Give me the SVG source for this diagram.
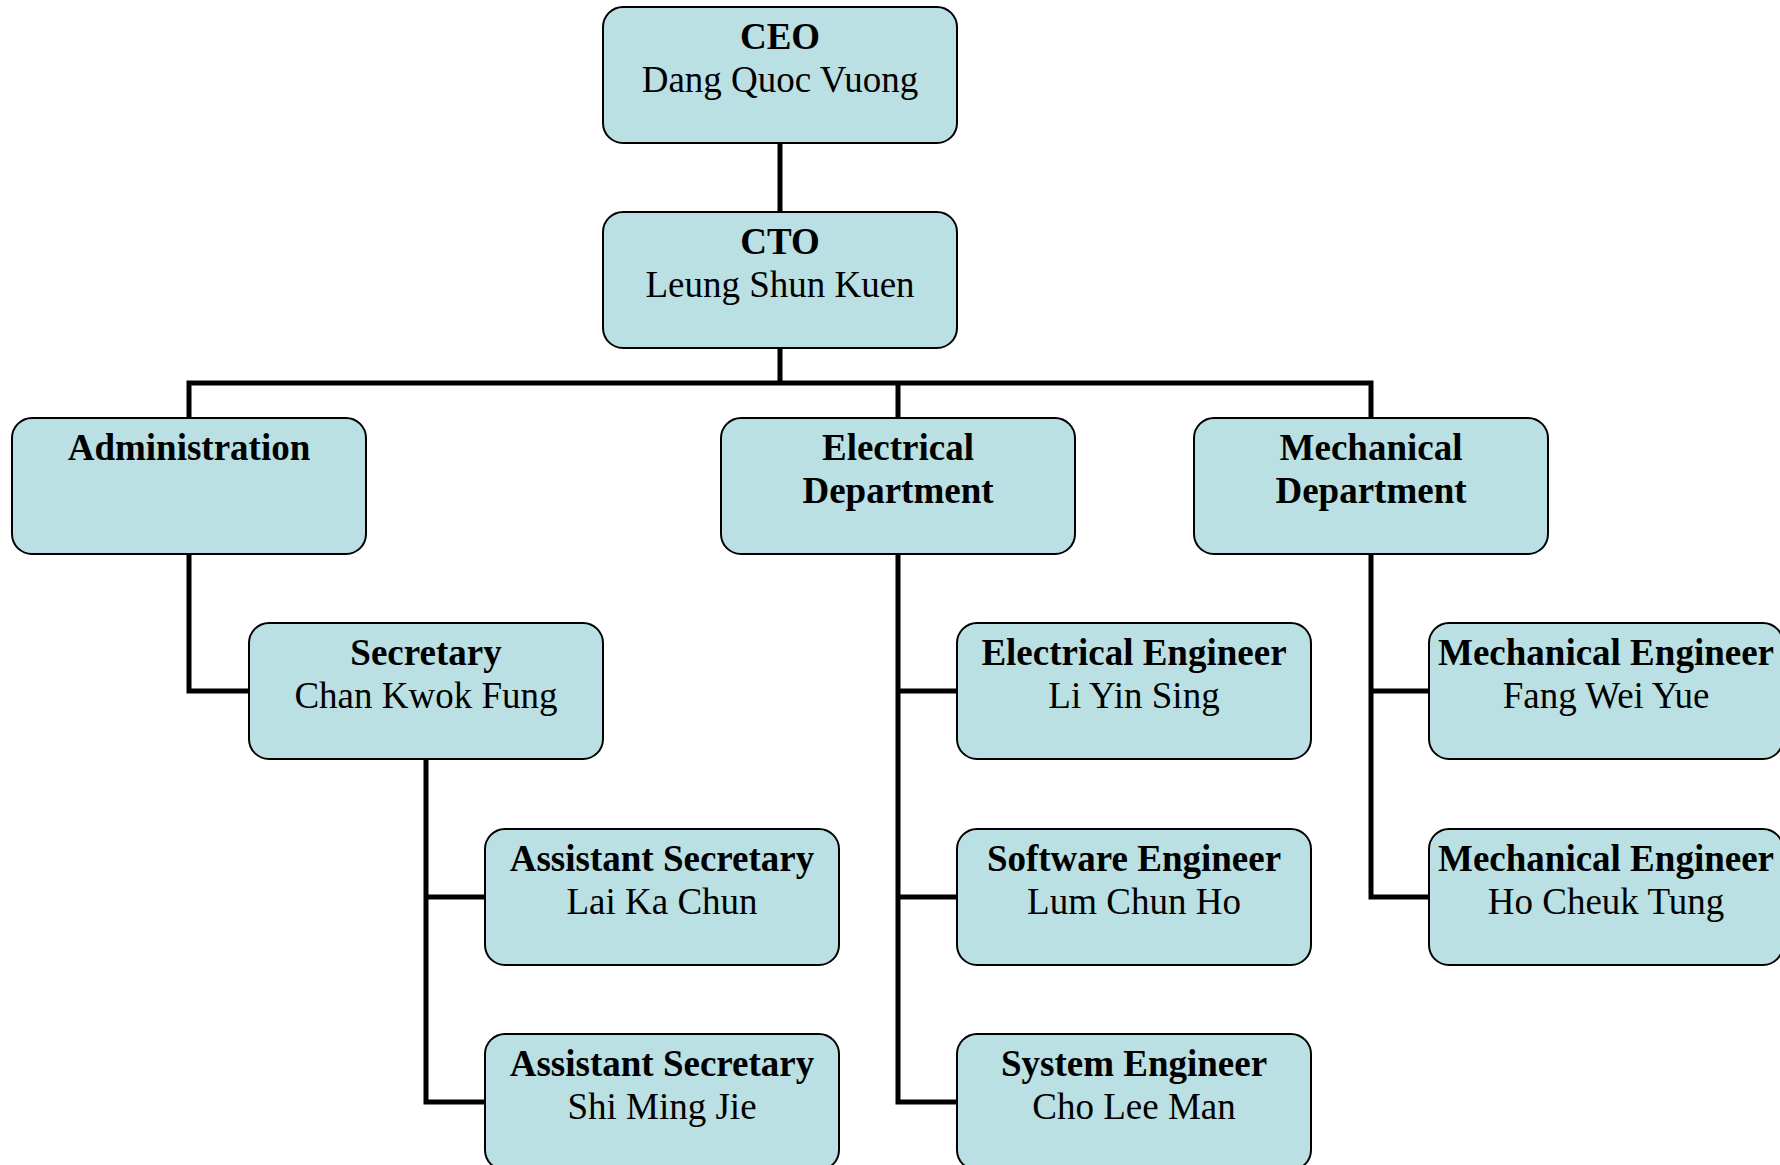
<svg xmlns="http://www.w3.org/2000/svg" width="1780" height="1165" viewBox="0 0 1780 1165">
<style>
.box{fill:#bae0e3;stroke:#000;stroke-width:2}
.t{font-family:"Liberation Serif","Times New Roman",serif;font-size:37px;text-anchor:middle;fill:#000}
.b{font-weight:bold}
.c{fill:none;stroke:#000;stroke-width:5;stroke-linejoin:miter}
</style>
<rect width="1780" height="1165" fill="#fff"/>
<g id="connectors">
<path class="c" d="M780 143V212"/>
<path class="c" d="M780 348V383M189 417V383H1371V417M898 383V417"/>
<path class="c" d="M189 553V691H249"/>
<path class="c" d="M426 759V1102H485M426 897H485"/>
<path class="c" d="M898 554V1102H957M898 691H957M898 897H957"/>
<path class="c" d="M1371 554V897H1429M1371 691H1429"/>
</g>
<g id="ceo"><rect class="box" x="603" y="7" width="354" height="136" rx="20"/><text class="t b" x="780" y="49">CEO</text><text class="t" x="780" y="92">Dang Quoc Vuong</text></g>
<g id="cto"><rect class="box" x="603" y="212" width="354" height="136" rx="20"/><text class="t b" x="780" y="254">CTO</text><text class="t" x="780" y="297">Leung Shun Kuen</text></g>
<g id="admin"><rect class="box" x="12" y="418" width="354" height="136" rx="20"/><text class="t b" x="189" y="460">Administration</text></g>
<g id="elecdept"><rect class="box" x="721" y="418" width="354" height="136" rx="20"/><text class="t b" x="898" y="460">Electrical</text><text class="t b" x="898" y="503">Department</text></g>
<g id="mechdept"><rect class="box" x="1194" y="418" width="354" height="136" rx="20"/><text class="t b" x="1371" y="460">Mechanical</text><text class="t b" x="1371" y="503">Department</text></g>
<g id="secretary"><rect class="box" x="249" y="623" width="354" height="136" rx="20"/><text class="t b" x="426" y="665">Secretary</text><text class="t" x="426" y="708">Chan Kwok Fung</text></g>
<g id="eleceng"><rect class="box" x="957" y="623" width="354" height="136" rx="20"/><text class="t b" x="1134" y="665">Electrical Engineer</text><text class="t" x="1134" y="708">Li Yin Sing</text></g>
<g id="mecheng1"><rect class="box" x="1429" y="623" width="354" height="136" rx="20"/><text class="t b" x="1606" y="665">Mechanical Engineer</text><text class="t" x="1606" y="708">Fang Wei Yue</text></g>
<g id="asstsec1"><rect class="box" x="485" y="829" width="354" height="136" rx="20"/><text class="t b" x="662" y="871">Assistant Secretary</text><text class="t" x="662" y="914">Lai Ka Chun</text></g>
<g id="softeng"><rect class="box" x="957" y="829" width="354" height="136" rx="20"/><text class="t b" x="1134" y="871">Software Engineer</text><text class="t" x="1134" y="914">Lum Chun Ho</text></g>
<g id="mecheng2"><rect class="box" x="1429" y="829" width="354" height="136" rx="20"/><text class="t b" x="1606" y="871">Mechanical Engineer</text><text class="t" x="1606" y="914">Ho Cheuk Tung</text></g>
<g id="asstsec2"><rect class="box" x="485" y="1034" width="354" height="136" rx="20"/><text class="t b" x="662" y="1076">Assistant Secretary</text><text class="t" x="662" y="1119">Shi Ming Jie</text></g>
<g id="syseng"><rect class="box" x="957" y="1034" width="354" height="136" rx="20"/><text class="t b" x="1134" y="1076">System Engineer</text><text class="t" x="1134" y="1119">Cho Lee Man</text></g>
</svg>
